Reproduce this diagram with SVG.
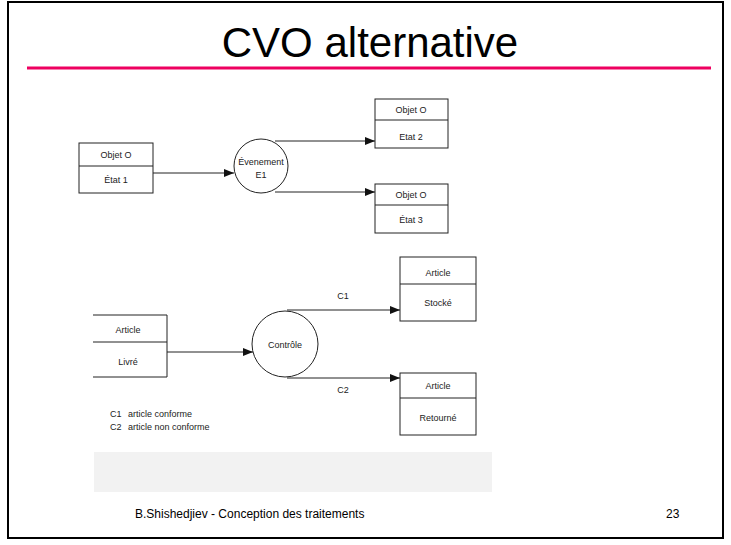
<svg xmlns="http://www.w3.org/2000/svg" width="731" height="545" viewBox="0 0 731 545">
<defs>
<style>
.box{fill:#fff;stroke:#222;stroke-width:1}
.ln{fill:none;stroke:#222;stroke-width:1}
.t{font-family:"Liberation Sans",Arial,sans-serif;font-size:9px;fill:#222;text-anchor:middle}
.lg{font-family:"Liberation Sans",Arial,sans-serif;font-size:9px;fill:#222}
.ft{font-family:"Liberation Sans",Arial,sans-serif;font-size:12px;fill:#000}
</style>
<marker id="ah" markerWidth="10" markerHeight="8" refX="10" refY="4" orient="auto" markerUnits="userSpaceOnUse">
<path d="M0,0 L10,4 L0,8 Z" fill="#111"/>
</marker>
</defs>
<rect x="0" y="0" width="731" height="545" fill="#fff"/>
<rect x="8" y="2" width="715" height="536" fill="none" stroke="#000" stroke-width="2"/>
<text x="370" y="57" font-family="'Liberation Sans',Arial,sans-serif" font-size="42" text-anchor="middle" fill="#000">CVO alternative</text>
<line x1="27" y1="68" x2="711" y2="68" stroke="#EE0060" stroke-width="3"/>
<rect x="94" y="452" width="398" height="40" fill="#f2f2f2"/>
<text class="ft" x="135" y="518">B.Shishedjiev - Conception des traitements</text>
<text class="ft" x="666" y="518">23</text>

<g id="connectors">
<line class="ln" x1="153" y1="173" x2="234" y2="173" marker-end="url(#ah)"/>
<line class="ln" x1="275" y1="141" x2="375" y2="141" marker-end="url(#ah)"/>
<line class="ln" x1="275" y1="192" x2="375" y2="192" marker-end="url(#ah)"/>
<line class="ln" x1="167" y1="352" x2="253" y2="352" marker-end="url(#ah)"/>
<line class="ln" x1="287" y1="310" x2="400" y2="310" marker-end="url(#ah)"/>
<line class="ln" x1="287" y1="378" x2="400" y2="378" marker-end="url(#ah)"/>
<text class="t" x="343" y="299">C1</text>
<text class="t" x="343" y="393">C2</text>
</g>

<g id="etat1">
<rect class="box" x="79" y="143" width="74" height="50"/>
<line class="ln" x1="79" y1="166" x2="153" y2="166"/>
<text class="t" x="116" y="158">Objet O</text>
<text class="t" x="116" y="183">État 1</text>
</g>
<g id="evenement">
<circle class="box" cx="261" cy="166" r="27"/>
<text class="t" x="261" y="165">Évenement</text>
<text class="t" x="261" y="178">E1</text>
</g>
<g id="etat2">
<rect class="box" x="375" y="99" width="73" height="49"/>
<line class="ln" x1="375" y1="120" x2="448" y2="120"/>
<text class="t" x="411" y="113">Objet O</text>
<text class="t" x="411" y="140">Etat 2</text>
</g>
<g id="etat3">
<rect class="box" x="375" y="184" width="73" height="49"/>
<line class="ln" x1="375" y1="205" x2="448" y2="205"/>
<text class="t" x="411" y="198">Objet O</text>
<text class="t" x="411" y="223">État 3</text>
</g>

<g id="livre">
<path class="ln" d="M93,315 H167 V377 H93 M93,342 H167"/>
<text class="t" x="128" y="333">Article</text>
<text class="t" x="128" y="365">Livré</text>
</g>
<g id="controle">
<circle class="box" cx="285" cy="344" r="33"/>
<text class="t" x="285" y="348">Contrôle</text>
</g>
<g id="stocke">
<rect class="box" x="400" y="257" width="76" height="64"/>
<line class="ln" x1="400" y1="284" x2="476" y2="284"/>
<text class="t" x="438" y="276">Article</text>
<text class="t" x="438" y="306">Stocké</text>
</g>
<g id="retourne">
<rect class="box" x="400" y="373" width="76" height="62"/>
<line class="ln" x1="400" y1="398" x2="476" y2="398"/>
<text class="t" x="438" y="389">Article</text>
<text class="t" x="438" y="421">Retourné</text>
</g>
<g id="legend">
<text class="lg" x="110" y="417">C1</text>
<text class="lg" x="128" y="417">article conforme</text>
<text class="lg" x="110" y="430">C2</text>
<text class="lg" x="128" y="430">article non conforme</text>
</g>
</svg>
